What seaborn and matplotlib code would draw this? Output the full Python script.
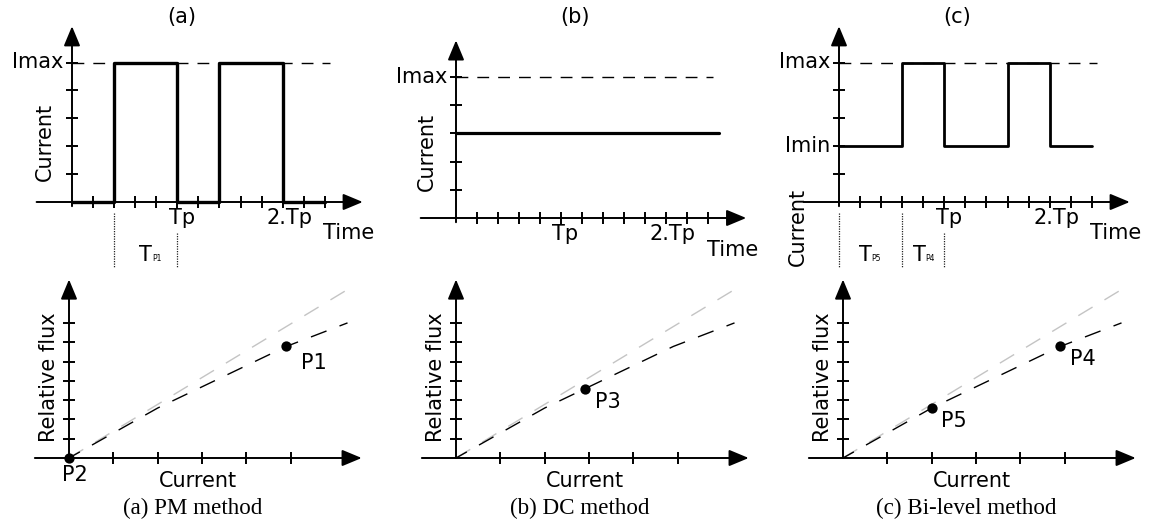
import numpy as np
import pandas as pd
import matplotlib
matplotlib.use("Agg")
import matplotlib.pyplot as plt
import seaborn as sns

# ---- waveform data (time in ticks, current in ticks) ----
pm_time = [0, 2, 5, 7, 10, 12]
pm_current = [0, 5, 0, 5, 0, 0]
dc_time = [0, 12.5]
dc_current = [3, 3]
bl_time = [0, 3, 5, 8, 10, 12]
bl_current = [2, 5, 2, 5, 2, 2]
i_max = 5
i_min = 2
time_tick_labels = ["Tp", "2.Tp"]
time_tick_pos = [5, 10]

# ---- flux-current characteristic ----
flux_current = [0, 2.0, 2.9, 4.9, 6.28]
flux_value = [0, 2.59, 3.58, 5.78, 7.0]
linear_current = [0, 6.26]
linear_flux = [0, 8.7]

# operating points per method
pm_pt_x = [4.9, 0.0]
pm_pt_y = [5.78, 0.0]
pm_pt_lbl = ["P1", "P2"]
dc_pt_x = [2.9]
dc_pt_y = [3.58]
dc_pt_lbl = ["P3"]
bl_pt_x = [4.9, 2.0]
bl_pt_y = [5.78, 2.59]
bl_pt_lbl = ["P4", "P5"]

captions = ["(a) PM method", "(b) DC method", "(c) Bi-level method"]
panel_tags = ["(a)", "(b)", "(c)"]

sns.set_theme(style="white")
plt.rcParams["font.family"] = ["DejaVu Sans"]
plt.rcParams["text.color"] = "black"

W, H = 1153, 525
fig = plt.figure(figsize=(W / 100, H / 100), dpi=100)
fig.patch.set_facecolor("white")

FS = 15
AX_LW = 1.4


def place(origin, unit, xlim, ylim):
    ox, oy = origin
    ux, uy = unit
    left = (ox + xlim[0] * ux) / W
    right = (ox + xlim[1] * ux) / W
    top = 1 - (oy - ylim[1] * uy) / H
    bottom = 1 - (oy - ylim[0] * uy) / H
    ax = fig.add_axes([left, bottom, right - left, top - bottom])
    ax.set_xlim(xlim)
    ax.set_ylim(ylim)
    ax.axis("off")
    return ax


def arrow(ax, start, end):
    ax.annotate("", xy=end, xytext=start,
                arrowprops=dict(arrowstyle="-|>,head_length=0.6,head_width=0.25",
                                lw=AX_LW, color="black", mutation_scale=20,
                                shrinkA=0, shrinkB=0))


def axes_frame(ax, x0, x1, ytop, nx, ny):
    arrow(ax, (x0, 0), (x1, 0))
    arrow(ax, (0, -0.15), (0, ytop))
    ax.plot(np.arange(1, nx + 1), np.zeros(nx), ls="none", marker="|",
            ms=9, mew=AX_LW, color="black")
    ax.plot(np.zeros(ny), np.arange(1, ny + 1), ls="none", marker="_",
            ms=9, mew=AX_LW, color="black")


def waveform(ax, t, i, lw, tag, tag_xy, ylab_xy, levels, dashed_end):
    axes_frame(ax, -1.68, 13.8, 6.3, 12, 5)
    ax.plot([0, dashed_end], [i_max, i_max], color="black", lw=1.0,
            dashes=(8.5, 6.5))
    df = pd.DataFrame({"t": t, "i": i})
    sns.lineplot(data=df, x="t", y="i", ax=ax, drawstyle="steps-post",
                 color="black", lw=lw, estimator=None, sort=False)
    for name, lvl in levels:
        ax.text(-0.42, lvl, name, ha="right", va="center", fontsize=FS)
    ax.text(ylab_xy[0], ylab_xy[1], "Current", rotation=90, ha="center",
            va="center", fontsize=FS)
    for lbl, pos in zip(time_tick_labels, time_tick_pos):
        shift = 0.2 if lbl == "Tp" else 0.3
        ax.text(pos + shift, -0.22, lbl, ha="center", va="top", fontsize=FS)
    ax.text(13.15, -1.12, "Time", ha="center", va="center", fontsize=FS)
    ax.text(tag_xy[0], tag_xy[1], tag, ha="center", va="center", fontsize=FS)
    ax.set_xlabel("")
    ax.set_ylabel("")


def guide(ax, x, y_top):
    ax.plot([x, x], [y_top, -2.34], ls=(0, (1, 1)), lw=0.9, color="#222222")


def period_label(ax, x_t, sub):
    ax.text(x_t, -2.12, "T", ha="left", va="baseline", fontsize=FS)
    ax.text(x_t + 0.6, -2.12, sub, ha="left", va="baseline", fontsize=5.5)


def flux_panel(ax, px, py, plbl, offsets, caption):
    arrow(ax, (-0.77, 0), (6.6, 0))
    arrow(ax, (0, 0), (0, 9.25))
    ax.plot(np.arange(1, 6), np.zeros(5), ls="none", marker="|",
            ms=9, mew=AX_LW, color="black")
    ax.plot(np.zeros(7), np.arange(1, 8), ls="none", marker="_",
            ms=9, mew=AX_LW, color="black")
    sns.lineplot(x=linear_current, y=linear_flux, ax=ax, color="#c4c4c4",
                 lw=1.0, estimator=None, sort=False,
                 linestyle=(0, (12, 10)))
    sns.lineplot(x=flux_current, y=flux_value, ax=ax, color="black",
                 lw=1.0, estimator=None, sort=False, linestyle=(3, (12, 10)))
    sns.scatterplot(x=px, y=py, ax=ax, color="black", s=55, zorder=5,
                    edgecolor="black", linewidth=0, clip_on=False)
    for x, y, lbl, off in zip(px, py, plbl, offsets):
        ax.annotate(lbl, (x, y), xytext=off, textcoords="offset pixels",
                    ha="center", va="center", fontsize=FS)
    ax.text(-0.45, 4.17, "Relative flux", rotation=90, ha="center",
            va="center", fontsize=FS)
    ax.text(2.9, -1.2, "Current", ha="center", va="center", fontsize=FS)
    ax.text(2.79, -2.64, caption, ha="center", va="center", fontsize=16.6,
            family="Liberation Serif")
    ax.set_xlabel("")
    ax.set_ylabel("")


TOP_UNIT = (21.07, 27.9)
BOT_UNIT = (44.35, 19.3)
XL_T, YL_T = (-2.2, 14.4), (-3.0, 7.4)
XL_B, YL_B = (-1.0, 7.2), (-3.0, 9.6)

# ---- top row: current waveforms ----
ax_a = place((72, 202), TOP_UNIT, XL_T, YL_T)
waveform(ax_a, pm_time, pm_current, 2.4, panel_tags[0], (5.2, 6.62),
         (-1.3, 2.16), [("Imax", i_max)], 12.25)
guide(ax_a, 2, -0.4)
guide(ax_a, 5, -1.1)
period_label(ax_a, 3.2, "P1")

ax_b = place((456, 218), (21.03, 28.2), XL_T, YL_T)
waveform(ax_b, dc_time, dc_current, 2.3, panel_tags[1], (5.66, 7.13),
         (-1.4, 2.35), [("Imax", i_max)], 12.2)

ax_c = place((839, 202), TOP_UNIT, XL_T, YL_T)
waveform(ax_c, bl_time, bl_current, 2.0, panel_tags[2], (5.6, 6.62),
         (-1.95, -0.9), [("Imax", i_max), ("Imin", i_min)], 12.25)
guide(ax_c, 0, -0.4)
guide(ax_c, 3, -0.4)
guide(ax_c, 5, -1.1)
period_label(ax_c, 0.95, "P5")
period_label(ax_c, 3.5, "P4")

# ---- bottom row: flux vs current ----
bx_a = place((69, 458), BOT_UNIT, XL_B, YL_B)
flux_panel(bx_a, pm_pt_x, pm_pt_y, pm_pt_lbl, [(28, -17), (6, -17)], captions[0])

bx_b = place((456, 458), BOT_UNIT, XL_B, YL_B)
flux_panel(bx_b, dc_pt_x, dc_pt_y, dc_pt_lbl, [(23, -13)], captions[1])

bx_c = place((843, 458), BOT_UNIT, XL_B, YL_B)
flux_panel(bx_c, bl_pt_x, bl_pt_y, bl_pt_lbl, [(23, -13), (22, -13)], captions[2])

fig.savefig("out.png", dpi=100, facecolor="white")
